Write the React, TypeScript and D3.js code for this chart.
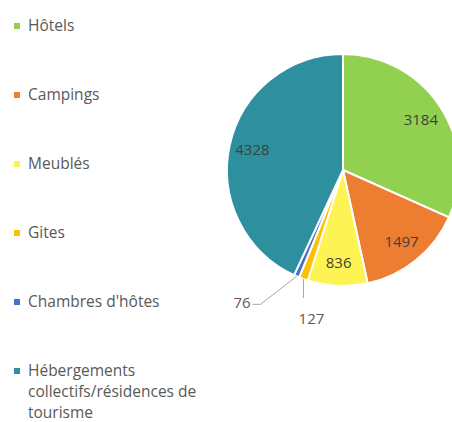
import React from "react";
import * as d3 from "d3";

// hébergements par type
const categories = [
  "Hôtels",
  "Campings",
  "Meublés",
  "Gites",
  "Chambres d'hôtes",
  "Hébergements collectifs/résidences de tourisme",
];
const values = [3184, 1497, 836, 127, 76, 4328];
const colors = ["#92D050", "#ED7D31", "#FDF353", "#FFC000", "#4472C4", "#2E909E"];
// legend text, wrapped the same way as the original
const legendLines = [
  ["Hôtels"],
  ["Campings"],
  ["Meublés"],
  ["Gites"],
  ["Chambres d'hôtes"],
  ["Hébergements", "collectifs/résidences de", "tourisme"],
];

const W = 452;
const H = 422;
const cx = 343;
const cy = 170;
const R = 116;
const font = "'Open Sans', sans-serif";
const textColor = "#595959";

const App = () => {
  const pie = d3.pie<number>().sort(null).value((d) => d)(values);
  const arc = d3.arc<d3.PieArcDatum<number>>().innerRadius(0).outerRadius(R);
  const labelArc = d3.arc<d3.PieArcDatum<number>>().innerRadius(R * 0.8).outerRadius(R * 0.8);
  const edgeArc = d3.arc<d3.PieArcDatum<number>>().innerRadius(R).outerRadius(R);

  const legendY = d3.scaleLinear().domain([0, 1]).range([26, 95]);

  return (
    <svg width={W} height={H} style={{ position: "absolute", left: 0, top: 0 }}>
      <rect width={W} height={H} fill="#fff" />
      <g transform={`translate(${cx},${cy})`}>
        {pie.map((p, i) => (
          <path key={i} d={arc(p) || ""} fill={colors[i]} stroke="#fff" strokeWidth={2} strokeLinejoin="round" />
        ))}
        {pie.map((p, i) => {
          const v = values[i];
          if (v < 500) {
            const [ex, ey] = edgeArc.centroid(p);
            if (categories[i] === "Gites") {
              return (
                <g key={"l" + i}>
                  <path d={`M${ex},${ey}V${ey + 19}`} stroke="#A6A6A6" fill="none" strokeWidth={1} />
                  <text x={ex + 8} y={ey + 45} textAnchor="middle" fontFamily={font} fontSize={15} fill={textColor}>
                    {v}
                  </text>
                </g>
              );
            }
            return (
              <g key={"l" + i}>
                <path d={`M${ex},${ey}L${ex - 36},${ey + 28}H${ex - 44}`} stroke="#A6A6A6" fill="none" strokeWidth={1} />
                <text x={ex - 46} y={ey + 27} dy="0.33em" textAnchor="end" fontFamily={font} fontSize={15} fill={textColor}>
                  {v}
                </text>
              </g>
            );
          }
          const [lx, ly] = labelArc.centroid(p);
          return (
            <text key={"l" + i} x={lx} y={ly} dy="0.35em" textAnchor="middle" fontFamily={font} fontSize={15} fill="#404040">
              {v}
            </text>
          );
        })}
      </g>
      <g>
        {legendLines.map((lines, i) => {
          const y = legendY(i);
          return (
            <g key={"lg" + i}>
              <rect x={14} y={y - 3} width={6} height={6} fill={colors[i]} />
              {lines.map((t, j) => (
                <text key={j} x={28} y={y + j * 21} dy="0.35em" fontFamily={font} fontSize={15.5} fill={textColor}>
                  {t}
                </text>
              ))}
            </g>
          );
        })}
      </g>
    </svg>
  );
};

export default App;
